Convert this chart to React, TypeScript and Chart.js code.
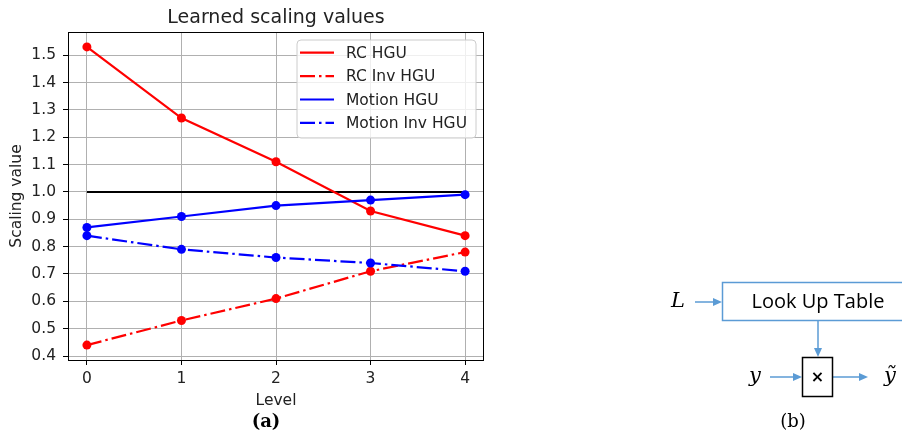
import React, { useEffect, useRef } from "react";
import { Chart, registerables } from "chart.js";

Chart.register(...registerables);

const levels = [0, 1, 2, 3, 4];
const rcHgu = [1.53, 1.27, 1.11, 0.93, 0.84];
const rcInvHgu = [0.44, 0.53, 0.61, 0.71, 0.78];
const motionHgu = [0.87, 0.91, 0.95, 0.97, 0.99];
const motionInvHgu = [0.84, 0.79, 0.76, 0.74, 0.71];
const referenceLine = [1.0, 1.0, 1.0, 1.0, 1.0];
const xTicks = [0, 1, 2, 3, 4];
const yTicks = [0.4, 0.5, 0.6, 0.7, 0.8, 0.9, 1.0, 1.1, 1.2, 1.3, 1.4, 1.5];
const seriesNames = ["RC HGU", "RC Inv HGU", "Motion HGU", "Motion Inv HGU"];
const seriesColors = ["#ff0000", "#ff0000", "#0000ff", "#0000ff"];
const seriesDashed = [false, true, false, true];
const chartTitle = "Learned scaling values";
const xTitle = "Level";
const yTitle = "Scaling value";

const FONT = "'DejaVu Sans', sans-serif";
const DASHDOT = [15, 4, 2.5, 4];

function arrow(ctx: CanvasRenderingContext2D, x1: number, y1: number, x2: number, y2: number, color: string) {
  const ang = Math.atan2(y2 - y1, x2 - x1);
  const hl = 9, hw = 4;
  ctx.save();
  ctx.strokeStyle = color;
  ctx.fillStyle = color;
  ctx.lineWidth = 1.5;
  ctx.beginPath();
  ctx.moveTo(x1, y1);
  ctx.lineTo(x2 - hl * Math.cos(ang), y2 - hl * Math.sin(ang));
  ctx.stroke();
  ctx.beginPath();
  ctx.moveTo(x2, y2);
  ctx.lineTo(x2 - hl * Math.cos(ang) + hw * Math.sin(ang), y2 - hl * Math.sin(ang) - hw * Math.cos(ang));
  ctx.lineTo(x2 - hl * Math.cos(ang) - hw * Math.sin(ang), y2 - hl * Math.sin(ang) + hw * Math.cos(ang));
  ctx.closePath();
  ctx.fill();
  ctx.restore();
}

const decorPlugin = {
  id: "decor",
  afterDraw(chart: any) {
    const ctx: CanvasRenderingContext2D = chart.ctx;
    const a = chart.chartArea;
    ctx.save();
    // frame (spines)
    ctx.strokeStyle = "#000";
    ctx.lineWidth = 1;
    ctx.strokeRect(Math.round(a.left) + 0.5, Math.round(a.top) + 0.5, Math.round(a.right - a.left) - 1, Math.round(a.bottom - a.top));

    // title
    ctx.fillStyle = "#222";
    ctx.textAlign = "center";
    ctx.textBaseline = "alphabetic";
    ctx.font = `19px ${FONT}`;
    const cx = (a.left + a.right) / 2;
    ctx.fillText(chartTitle, cx, 22.5);

    // axis titles
    ctx.font = `15.5px ${FONT}`;
    ctx.fillText(xTitle, cx, 405);
    ctx.save();
    ctx.translate(20.5, (a.top + a.bottom) / 2);
    ctx.rotate(-Math.PI / 2);
    ctx.fillText(yTitle, 0, 0);
    ctx.restore();

    // legend
    const lx = 297, ly = 40, lw = 179, lh = 98, r = 4;
    ctx.beginPath();
    ctx.moveTo(lx + r, ly);
    ctx.arcTo(lx + lw, ly, lx + lw, ly + lh, r);
    ctx.arcTo(lx + lw, ly + lh, lx, ly + lh, r);
    ctx.arcTo(lx, ly + lh, lx, ly, r);
    ctx.arcTo(lx, ly, lx + lw, ly, r);
    ctx.closePath();
    ctx.fillStyle = "rgba(255,255,255,0.8)";
    ctx.fill();
    ctx.strokeStyle = "#cccccc";
    ctx.lineWidth = 1;
    ctx.stroke();
    ctx.textAlign = "left";
    ctx.textBaseline = "middle";
    for (let i = 0; i < seriesNames.length; i++) {
      const y = 52.7 + i * 23.4;
      ctx.save();
      ctx.strokeStyle = seriesColors[i];
      ctx.lineWidth = 2.2;
      ctx.setLineDash(seriesDashed[i] ? DASHDOT : []);
      ctx.beginPath();
      ctx.moveTo(300, y);
      ctx.lineTo(334, y);
      ctx.stroke();
      ctx.restore();
      ctx.fillStyle = "#222";
      ctx.font = `15.5px ${FONT}`;
      ctx.fillText(seriesNames[i], 346, y + 1);
    }

    // sub captions
    ctx.fillStyle = "#000";
    ctx.textAlign = "center";
    ctx.textBaseline = "alphabetic";
    ctx.font = "bold 18px 'DejaVu Serif', serif";
    ctx.fillText("(a)", 266, 427);
    ctx.font = "18px 'DejaVu Serif', serif";
    ctx.fillText("(b)", 793, 427);

    // diagram (b)
    const blue = "#5b9bd5";
    ctx.strokeStyle = blue;
    ctx.lineWidth = 1.5;
    ctx.strokeRect(722.5, 282.5, 200, 38);
    ctx.fillStyle = "#000";
    ctx.font = "20px 'Open Sans', sans-serif";
    ctx.textBaseline = "middle";
    ctx.fillText("Look Up Table", 818, 302);
    ctx.font = "italic 21px 'DejaVu Serif', serif";
    ctx.fillText("L", 678, 302);
    ctx.fillText("y", 755, 377);
    ctx.fillText("ỹ", 890, 377);
    arrow(ctx, 695, 302, 722, 302, blue);
    arrow(ctx, 818, 321, 818, 357, blue);
    arrow(ctx, 770, 377, 802, 377, blue);
    arrow(ctx, 833, 377, 868, 377, blue);
    ctx.strokeStyle = "#000";
    ctx.lineWidth = 1.5;
    ctx.strokeRect(802.5, 357.5, 30, 39);
    ctx.font = `bold 16px ${FONT}`;
    ctx.fillText("×", 817.5, 378);
    ctx.restore();
  },
};

export default function App() {
  const ref = useRef<HTMLCanvasElement | null>(null);
  useEffect(() => {
    if (!ref.current) return;
    const mk = (vals: number[]) => levels.map((x, i) => ({ x, y: vals[i] }));
    const seriesValues = [rcHgu, rcInvHgu, motionHgu, motionInvHgu];
    const datasets: any[] = seriesValues.map((vals, i) => ({
      label: seriesNames[i],
      data: mk(vals),
      borderColor: seriesColors[i],
      backgroundColor: seriesColors[i],
      borderWidth: 2.2,
      borderDash: seriesDashed[i] ? DASHDOT : [],
      pointRadius: 4.5,
      pointBorderWidth: 0,
      pointBackgroundColor: seriesColors[i],
      showLine: true,
      order: 4 - i,
    }));
    datasets.push({
      label: "reference",
      data: mk(referenceLine),
      borderColor: "#000",
      borderWidth: 2,
      pointRadius: 0,
      showLine: true,
      order: 10,
    });
    const chart = new Chart(ref.current, {
      type: "scatter",
      data: { datasets },
      options: {
        animation: false,
        responsive: false,
        layout: { padding: { left: 0, top: 32, right: 418, bottom: 0 } },
        plugins: { legend: { display: false }, title: { display: false }, tooltip: { enabled: false } },
        scales: {
          x: {
            type: "linear",
            min: -0.2,
            max: 4.2,
            afterFit: (s: any) => { s.height = 73; },
            afterBuildTicks: (s: any) => { s.ticks = xTicks.map((v) => ({ value: v })); },
            grid: { color: "#b0b0b0", lineWidth: 1, tickColor: "#000", tickLength: 5, drawTicks: true },
            border: { display: false },
            ticks: { color: "#222", font: { family: FONT, size: 15.5 }, padding: 5, maxRotation: 0, callback: (v: any) => String(v) },
          },
          y: {
            type: "linear",
            min: 0.3855,
            max: 1.5845,
            afterFit: (s: any) => { s.width = 68; },
            afterBuildTicks: (s: any) => { s.ticks = yTicks.map((v) => ({ value: v })); },
            grid: { color: "#b0b0b0", lineWidth: 1, tickColor: "#000", tickLength: 5, drawTicks: true },
            border: { display: false },
            ticks: { color: "#222", font: { family: FONT, size: 15.5 }, padding: 7, callback: (v: any) => Number(v).toFixed(1) },
          },
        },
      },
      plugins: [decorPlugin],
    });
    return () => chart.destroy();
  }, []);
  return (
    <div style={{ position: "absolute", left: 0, top: 0, width: 902, height: 433, background: "#fff" }}>
      <canvas ref={ref} width={902} height={433} />
    </div>
  );
}
